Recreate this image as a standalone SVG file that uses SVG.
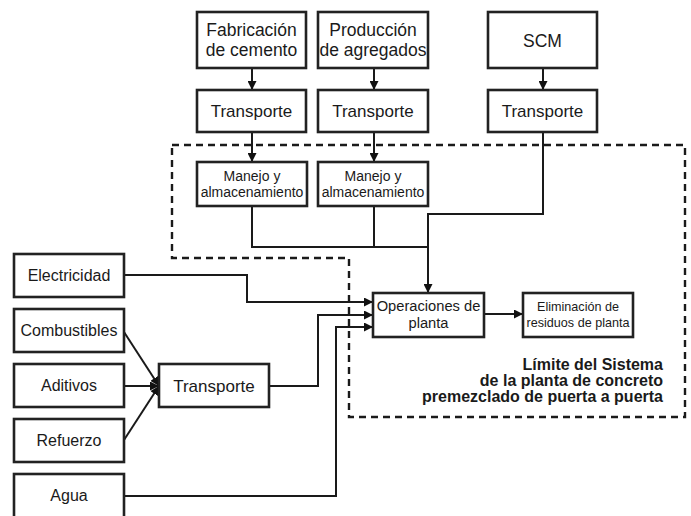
<svg xmlns="http://www.w3.org/2000/svg" width="691" height="516" viewBox="0 0 691 516">
<defs>
<marker id="ah" viewBox="0 0 10 10" refX="10" refY="5" markerWidth="9" markerHeight="9" markerUnits="userSpaceOnUse" orient="auto"><path d="M0,0 L10,5 L0,10 z" fill="#111"/></marker>
<style>
.box{fill:#fff;stroke:#222;stroke-width:2.6}
.t{font-family:"Liberation Sans",Arial,sans-serif;fill:#1a1a1a;text-anchor:middle}
.c{fill:none;stroke:#1a1a1a;stroke-width:2}
.a{fill:none;stroke:#1a1a1a;stroke-width:2;marker-end:url(#ah)}
.b{fill:none;stroke:#1a1a1a;stroke-width:2.4;stroke-dasharray:7,5}
.lbl{font-family:"Liberation Sans",Arial,sans-serif;font-weight:bold;font-size:16px;fill:#1a1a1a;text-anchor:end}
</style>
</defs>
<rect width="691" height="516" fill="#fff"/>
<g id="boundary">
<path class="b" d="M172,145 H685 V417 H349 V258 H172 Z"/>
</g>
<g id="connectors">
<path class="a" d="M252,68 V90"/>
<path class="a" d="M374,68 V90"/>
<path class="a" d="M543,68 V90"/>
<path class="a" d="M252,132 V162"/>
<path class="a" d="M374,132 V162"/>
<path class="c" d="M252,206 V247 H428"/>
<path class="c" d="M374,206 V247"/>
<path class="a" d="M543,132 V214 H428 V293"/>
<path class="a" d="M484,314 H523"/>
<path class="a" d="M124,275 H247 V302 H373"/>
<path class="a" d="M269,386 H318 V315 H373"/>
<path class="a" d="M124,496 H336 V327 H373"/>
<path class="a" d="M124,332 L159,386"/>
<path class="a" d="M124,386 H159"/>
<path class="a" d="M124,440 L159,386"/>
</g>
<g id="n-fab"><rect class="box" x="197" y="12" width="109" height="56"/><text class="t" font-size="17.5" x="251.5" y="36">Fabricación</text><text class="t" font-size="17.5" x="251.5" y="56">de cemento</text></g>
<g id="n-prod"><rect class="box" x="318" y="12" width="110" height="56"/><text class="t" font-size="17.5" x="373" y="36">Producción</text><text class="t" font-size="17.5" x="373" y="56">de agregados</text></g>
<g id="n-scm"><rect class="box" x="488" y="12" width="109" height="56"/><text class="t" font-size="17.5" x="542.5" y="47">SCM</text></g>
<g id="n-t1"><rect class="box" x="197" y="90" width="109" height="42"/><text class="t" font-size="17" x="251.5" y="117">Transporte</text></g>
<g id="n-t2"><rect class="box" x="318" y="90" width="110" height="42"/><text class="t" font-size="17" x="373" y="117">Transporte</text></g>
<g id="n-t3"><rect class="box" x="488" y="90" width="109" height="42"/><text class="t" font-size="17" x="542.5" y="117">Transporte</text></g>
<g id="n-m1"><rect class="box" x="197" y="162" width="110" height="44"/><text class="t" font-size="14" x="252" y="181">Manejo y</text><text class="t" font-size="14" x="252" y="197">almacenamiento</text></g>
<g id="n-m2"><rect class="box" x="318" y="162" width="110" height="44"/><text class="t" font-size="14" x="373" y="181">Manejo y</text><text class="t" font-size="14" x="373" y="197">almacenamiento</text></g>
<g id="n-op"><rect class="box" x="373" y="293" width="111" height="44"/><text class="t" font-size="14.7" x="428.5" y="311">Operaciones de</text><text class="t" font-size="14.7" x="428.5" y="328">planta</text></g>
<g id="n-el"><rect class="box" x="523" y="293" width="110" height="44"/><text class="t" font-size="12.6" x="578" y="311">Eliminación de</text><text class="t" font-size="12.6" x="578" y="327">residuos de planta</text></g>
<g id="n-elec"><rect class="box" x="14" y="254" width="110" height="43"/><text class="t" font-size="16" x="69" y="281">Electricidad</text></g>
<g id="n-comb"><rect class="box" x="14" y="309" width="110" height="43"/><text class="t" font-size="16" x="69" y="336">Combustibles</text></g>
<g id="n-adit"><rect class="box" x="14" y="364" width="110" height="43"/><text class="t" font-size="16" x="69" y="391">Aditivos</text></g>
<g id="n-ref"><rect class="box" x="14" y="419" width="110" height="43"/><text class="t" font-size="16" x="69" y="446">Refuerzo</text></g>
<g id="n-agua"><rect class="box" x="14" y="474" width="110" height="44"/><text class="t" font-size="16" x="69" y="501">Agua</text></g>
<g id="n-t4"><rect class="box" x="159" y="364" width="110" height="43"/><text class="t" font-size="17" x="214" y="392">Transporte</text></g>
<g id="label">
<text class="lbl" x="663" y="370">Límite del Sistema</text>
<text class="lbl" x="663" y="386">de la planta de concreto</text>
<text class="lbl" x="663" y="402">premezclado de puerta a puerta</text>
</g>
</svg>
